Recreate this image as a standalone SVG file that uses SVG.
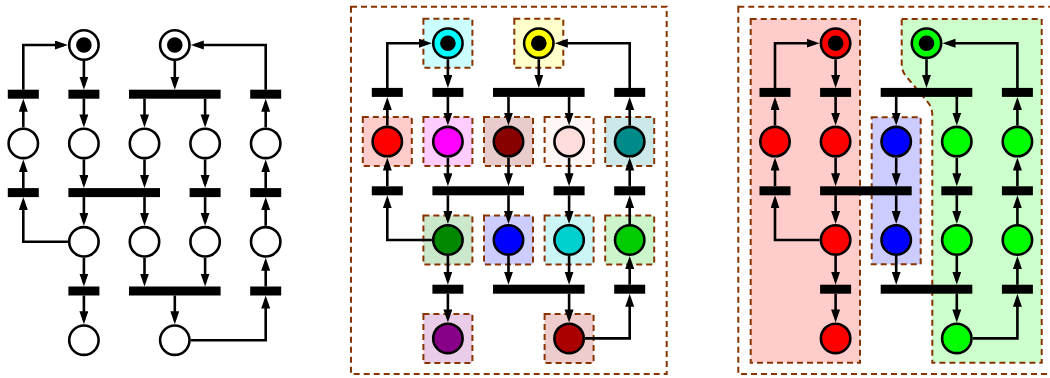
<svg xmlns="http://www.w3.org/2000/svg" width="1050" height="378" viewBox="0 0 1050 378">
<defs>
<marker id="arr" markerUnits="userSpaceOnUse" markerWidth="14" markerHeight="10" refX="9" refY="4.5" orient="auto">
<path d="M0,0 L13,4.5 L0,9 Z" fill="#000"/>
</marker>
<style>
.e{fill:none;stroke:#000;stroke-width:2.6;marker-end:url(#arr)}
.p{stroke:#000;stroke-width:2.6}
.t{fill:#000}
.k{fill:#000}
.d{stroke:#883300;stroke-width:2;stroke-dasharray:6,4}
.o{fill:none;stroke:#883300;stroke-width:2;stroke-dasharray:6,4}
</style>
</defs>
<rect width="1050" height="378" fill="#fff"/>

<!-- outer frames and regions -->
<g id="frames">
<rect class="o" x="351" y="6.7" width="315.7" height="367.3"/>
<rect class="o" x="738.3" y="6.7" width="315.7" height="367.3"/>
</g>
<g id="middle-boxes" transform="translate(387.3,43.2)">
<rect class="d" x="36.1" y="-24.5" width="49" height="49" fill="#ccffff"/>
<rect class="d" x="127" y="-24.5" width="49" height="49" fill="#ffffcc"/>
<rect class="d" x="-24.5" y="73.9" width="49" height="49" fill="#ffcccc"/>
<rect class="d" x="36.1" y="73.9" width="49" height="49" fill="#ffccff"/>
<rect class="d" x="96.7" y="73.9" width="49" height="49" fill="#e8cccc"/>
<rect class="d" x="157.3" y="73.9" width="49" height="49" fill="#fff6f6"/>
<rect class="d" x="217.9" y="73.9" width="49" height="49" fill="#cce8e8"/>
<rect class="d" x="36.1" y="172.3" width="49" height="49" fill="#cce8cc"/>
<rect class="d" x="96.7" y="172.3" width="49" height="49" fill="#ccccff"/>
<rect class="d" x="157.3" y="172.3" width="49" height="49" fill="#ccf5f5"/>
<rect class="d" x="217.9" y="172.3" width="49" height="49" fill="#ccf5cc"/>
<rect class="d" x="36.1" y="270.7" width="49" height="49" fill="#e8cce8"/>
<rect class="d" x="157.3" y="270.7" width="49" height="49" fill="#eecccc"/>
</g>
<g id="right-regions" transform="translate(775,43.2)">
<rect class="d" x="-24.3" y="-24.2" width="109.3" height="343.7" fill="#ffcccc"/>
<rect class="d" x="96.7" y="74.1" width="49" height="147" fill="#ccccff"/>
<path class="d" d="M126.7,-24.2 H266.7 V319.5 H157.3 V72 Q157.3,64 152,58 L131,33 Q126.7,28 126.7,20 Z" fill="#ccffcc"/>
</g>

<!-- connectors -->
<g id="connectors">
<g transform="translate(23.3,45)">
<path class="e" d="M60.6,16 V40.7"/>
<path class="e" d="M0,44.7 V0 H40.6"/>
<path class="e" d="M0,82.4 V57.7"/>
<path class="e" d="M60.6,53.7 V78.4"/>
<path class="e" d="M151.5,16 V40.7"/>
<path class="e" d="M242.4,44.7 V0 H171.5"/>
<path class="e" d="M121.2,53.7 V78.4"/>
<path class="e" d="M181.8,53.7 V78.4"/>
<path class="e" d="M242.4,82.4 V57.7"/>
<path class="e" d="M0,143.1 V118.4"/>
<path class="e" d="M60.6,114.4 V139.1"/>
<path class="e" d="M121.2,114.4 V139.1"/>
<path class="e" d="M181.8,114.4 V139.1"/>
<path class="e" d="M242.4,143.1 V118.4"/>
<path class="e" d="M60.6,152.1 V176.8"/>
<path class="e" d="M121.2,152.1 V176.8"/>
<path class="e" d="M181.8,152.1 V176.8"/>
<path class="e" d="M44.6,196.8 H0 V156.1"/>
<path class="e" d="M242.4,180.8 V156.1"/>
<path class="e" d="M60.6,212.8 V237.5"/>
<path class="e" d="M121.2,212.8 V237.5"/>
<path class="e" d="M181.8,212.8 V237.5"/>
<path class="e" d="M242.4,241.5 V216.8"/>
<path class="e" d="M60.6,250.5 V275.2"/>
<path class="e" d="M151.5,250.5 V275.2"/>
<path class="e" d="M167.5,295.2 H242.4 V254.5"/>
</g>
<g transform="translate(387.3,43.2)">
<path class="e" d="M60.6,16 V40.7"/>
<path class="e" d="M0,44.7 V0 H40.6"/>
<path class="e" d="M0,82.4 V57.7"/>
<path class="e" d="M60.6,53.7 V78.4"/>
<path class="e" d="M151.5,16 V40.7"/>
<path class="e" d="M242.4,44.7 V0 H171.5"/>
<path class="e" d="M121.2,53.7 V78.4"/>
<path class="e" d="M181.8,53.7 V78.4"/>
<path class="e" d="M242.4,82.4 V57.7"/>
<path class="e" d="M0,143.1 V118.4"/>
<path class="e" d="M60.6,114.4 V139.1"/>
<path class="e" d="M121.2,114.4 V139.1"/>
<path class="e" d="M181.8,114.4 V139.1"/>
<path class="e" d="M242.4,143.1 V118.4"/>
<path class="e" d="M60.6,152.1 V176.8"/>
<path class="e" d="M121.2,152.1 V176.8"/>
<path class="e" d="M181.8,152.1 V176.8"/>
<path class="e" d="M44.6,196.8 H0 V156.1"/>
<path class="e" d="M242.4,180.8 V156.1"/>
<path class="e" d="M60.6,212.8 V237.5"/>
<path class="e" d="M121.2,212.8 V237.5"/>
<path class="e" d="M181.8,212.8 V237.5"/>
<path class="e" d="M242.4,241.5 V216.8"/>
<path class="e" d="M60.6,250.5 V275.2"/>
<path class="e" d="M181.8,250.5 V275.2"/>
<path class="e" d="M197.8,295.2 H242.4 V254.5"/>
</g>
<g transform="translate(775,43.2)">
<path class="e" d="M60.6,16 V40.7"/>
<path class="e" d="M0,44.7 V0 H40.6"/>
<path class="e" d="M0,82.4 V57.7"/>
<path class="e" d="M60.6,53.7 V78.4"/>
<path class="e" d="M151.5,16 V40.7"/>
<path class="e" d="M242.4,44.7 V0 H171.5"/>
<path class="e" d="M121.2,53.7 V78.4"/>
<path class="e" d="M181.8,53.7 V78.4"/>
<path class="e" d="M242.4,82.4 V57.7"/>
<path class="e" d="M0,143.1 V118.4"/>
<path class="e" d="M60.6,114.4 V139.1"/>
<path class="e" d="M121.2,114.4 V139.1"/>
<path class="e" d="M181.8,114.4 V139.1"/>
<path class="e" d="M242.4,143.1 V118.4"/>
<path class="e" d="M60.6,152.1 V176.8"/>
<path class="e" d="M121.2,152.1 V176.8"/>
<path class="e" d="M181.8,152.1 V176.8"/>
<path class="e" d="M44.6,196.8 H0 V156.1"/>
<path class="e" d="M242.4,180.8 V156.1"/>
<path class="e" d="M60.6,212.8 V237.5"/>
<path class="e" d="M121.2,212.8 V237.5"/>
<path class="e" d="M181.8,212.8 V237.5"/>
<path class="e" d="M242.4,241.5 V216.8"/>
<path class="e" d="M60.6,250.5 V275.2"/>
<path class="e" d="M181.8,250.5 V275.2"/>
<path class="e" d="M197.8,295.2 H242.4 V254.5"/>
</g>
</g>

<!-- left net nodes -->
<g id="net-left" transform="translate(23.3,45)">
<g id="L-p1"><circle class="p" cx="60.6" cy="0" r="14.7" fill="#fff"/><circle class="k" cx="60.6" cy="0" r="7.8"/></g>
<g id="L-p2"><circle class="p" cx="151.5" cy="0" r="14.7" fill="#fff"/><circle class="k" cx="151.5" cy="0" r="7.8"/></g>
<g id="L-t1"><rect class="t" x="-15.5" y="44.7" width="31" height="9"/></g>
<g id="L-t2"><rect class="t" x="45.1" y="44.7" width="31" height="9"/></g>
<g id="L-t3"><rect class="t" x="105.7" y="44.7" width="91.6" height="9"/></g>
<g id="L-t4"><rect class="t" x="226.9" y="44.7" width="31" height="9"/></g>
<g id="L-p3"><circle class="p" cx="0" cy="98.4" r="14.7" fill="#fff"/></g>
<g id="L-p4"><circle class="p" cx="60.6" cy="98.4" r="14.7" fill="#fff"/></g>
<g id="L-p5"><circle class="p" cx="121.2" cy="98.4" r="14.7" fill="#fff"/></g>
<g id="L-p6"><circle class="p" cx="181.8" cy="98.4" r="14.7" fill="#fff"/></g>
<g id="L-p7"><circle class="p" cx="242.4" cy="98.4" r="14.7" fill="#fff"/></g>
<g id="L-t5"><rect class="t" x="-15.5" y="143.1" width="31" height="9"/></g>
<g id="L-t6"><rect class="t" x="45.1" y="143.1" width="91.6" height="9"/></g>
<g id="L-t7"><rect class="t" x="166.3" y="143.1" width="31" height="9"/></g>
<g id="L-t8"><rect class="t" x="226.9" y="143.1" width="31" height="9"/></g>
<g id="L-p8"><circle class="p" cx="60.6" cy="196.8" r="14.7" fill="#fff"/></g>
<g id="L-p9"><circle class="p" cx="121.2" cy="196.8" r="14.7" fill="#fff"/></g>
<g id="L-p10"><circle class="p" cx="181.8" cy="196.8" r="14.7" fill="#fff"/></g>
<g id="L-p11"><circle class="p" cx="242.4" cy="196.8" r="14.7" fill="#fff"/></g>
<g id="L-t9"><rect class="t" x="45.1" y="241.5" width="31" height="9"/></g>
<g id="L-t10"><rect class="t" x="105.7" y="241.5" width="91.6" height="9"/></g>
<g id="L-t11"><rect class="t" x="226.9" y="241.5" width="31" height="9"/></g>
<g id="L-p12"><circle class="p" cx="60.6" cy="295.2" r="14.7" fill="#fff"/></g>
<g id="L-p13"><circle class="p" cx="151.5" cy="295.2" r="14.7" fill="#fff"/></g>
</g>

<!-- middle net nodes -->
<g id="net-middle" transform="translate(387.3,43.2)">
<g id="M-p1"><circle class="p" cx="60.6" cy="0" r="14.7" fill="#00ffff"/><circle class="k" cx="60.6" cy="0" r="7.8"/></g>
<g id="M-p2"><circle class="p" cx="151.5" cy="0" r="14.7" fill="#ffff00"/><circle class="k" cx="151.5" cy="0" r="7.8"/></g>
<g id="M-t1"><rect class="t" x="-15.5" y="44.7" width="31" height="9"/></g>
<g id="M-t2"><rect class="t" x="45.1" y="44.7" width="31" height="9"/></g>
<g id="M-t3"><rect class="t" x="105.7" y="44.7" width="91.6" height="9"/></g>
<g id="M-t4"><rect class="t" x="226.9" y="44.7" width="31" height="9"/></g>
<g id="M-p3"><circle class="p" cx="0" cy="98.4" r="14.7" fill="#ff0000"/></g>
<g id="M-p4"><circle class="p" cx="60.6" cy="98.4" r="14.7" fill="#ff00ff"/></g>
<g id="M-p5"><circle class="p" cx="121.2" cy="98.4" r="14.7" fill="#880000"/></g>
<g id="M-p6"><circle class="p" cx="181.8" cy="98.4" r="14.7" fill="#ffdddd"/></g>
<g id="M-p7"><circle class="p" cx="242.4" cy="98.4" r="14.7" fill="#008b8b"/></g>
<g id="M-t5"><rect class="t" x="-15.5" y="143.1" width="31" height="9"/></g>
<g id="M-t6"><rect class="t" x="45.1" y="143.1" width="91.6" height="9"/></g>
<g id="M-t7"><rect class="t" x="166.3" y="143.1" width="31" height="9"/></g>
<g id="M-t8"><rect class="t" x="226.9" y="143.1" width="31" height="9"/></g>
<g id="M-p8"><circle class="p" cx="60.6" cy="196.8" r="14.7" fill="#008800"/></g>
<g id="M-p9"><circle class="p" cx="121.2" cy="196.8" r="14.7" fill="#0000ff"/></g>
<g id="M-p10"><circle class="p" cx="181.8" cy="196.8" r="14.7" fill="#00d0d0"/></g>
<g id="M-p11"><circle class="p" cx="242.4" cy="196.8" r="14.7" fill="#00cc00"/></g>
<g id="M-t9"><rect class="t" x="45.1" y="241.5" width="31" height="9"/></g>
<g id="M-t10"><rect class="t" x="105.7" y="241.5" width="91.6" height="9"/></g>
<g id="M-t11"><rect class="t" x="226.9" y="241.5" width="31" height="9"/></g>
<g id="M-p12"><circle class="p" cx="60.6" cy="295.2" r="14.7" fill="#880088"/></g>
<g id="M-p13"><circle class="p" cx="181.8" cy="295.2" r="14.7" fill="#aa0000"/></g>
</g>

<!-- right net nodes -->
<g id="net-right" transform="translate(775,43.2)">
<g id="R-p1"><circle class="p" cx="60.6" cy="0" r="14.7" fill="#ff0000"/><circle class="k" cx="60.6" cy="0" r="7.8"/></g>
<g id="R-p2"><circle class="p" cx="151.5" cy="0" r="14.7" fill="#00ff00"/><circle class="k" cx="151.5" cy="0" r="7.8"/></g>
<g id="R-t1"><rect class="t" x="-15.5" y="44.7" width="31" height="9"/></g>
<g id="R-t2"><rect class="t" x="45.1" y="44.7" width="31" height="9"/></g>
<g id="R-t3"><rect class="t" x="105.7" y="44.7" width="91.6" height="9"/></g>
<g id="R-t4"><rect class="t" x="226.9" y="44.7" width="31" height="9"/></g>
<g id="R-p3"><circle class="p" cx="0" cy="98.4" r="14.7" fill="#ff0000"/></g>
<g id="R-p4"><circle class="p" cx="60.6" cy="98.4" r="14.7" fill="#ff0000"/></g>
<g id="R-p5"><circle class="p" cx="121.2" cy="98.4" r="14.7" fill="#0000ff"/></g>
<g id="R-p6"><circle class="p" cx="181.8" cy="98.4" r="14.7" fill="#00ff00"/></g>
<g id="R-p7"><circle class="p" cx="242.4" cy="98.4" r="14.7" fill="#00ff00"/></g>
<g id="R-t5"><rect class="t" x="-15.5" y="143.1" width="31" height="9"/></g>
<g id="R-t6"><rect class="t" x="45.1" y="143.1" width="91.6" height="9"/></g>
<g id="R-t7"><rect class="t" x="166.3" y="143.1" width="31" height="9"/></g>
<g id="R-t8"><rect class="t" x="226.9" y="143.1" width="31" height="9"/></g>
<g id="R-p8"><circle class="p" cx="60.6" cy="196.8" r="14.7" fill="#ff0000"/></g>
<g id="R-p9"><circle class="p" cx="121.2" cy="196.8" r="14.7" fill="#0000ff"/></g>
<g id="R-p10"><circle class="p" cx="181.8" cy="196.8" r="14.7" fill="#00ff00"/></g>
<g id="R-p11"><circle class="p" cx="242.4" cy="196.8" r="14.7" fill="#00ff00"/></g>
<g id="R-t9"><rect class="t" x="45.1" y="241.5" width="31" height="9"/></g>
<g id="R-t10"><rect class="t" x="105.7" y="241.5" width="91.6" height="9"/></g>
<g id="R-t11"><rect class="t" x="226.9" y="241.5" width="31" height="9"/></g>
<g id="R-p12"><circle class="p" cx="60.6" cy="295.2" r="14.7" fill="#ff0000"/></g>
<g id="R-p13"><circle class="p" cx="181.8" cy="295.2" r="14.7" fill="#00ff00"/></g>
</g>
</svg>
